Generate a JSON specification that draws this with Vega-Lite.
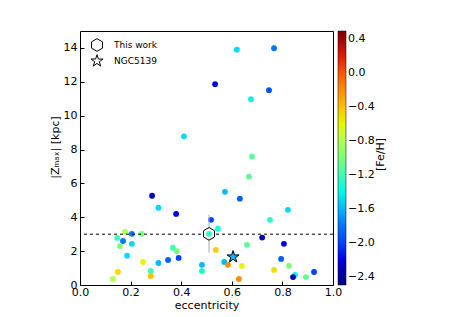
{
  "$schema": "https://vega.github.io/schema/vega-lite/v6.json",
  "autosize": "none",
  "padding": {"left": 80, "top": 31, "right": 116, "bottom": 32},
  "width": 253,
  "height": 254,
  "config": {
    "font": "DejaVu Sans",
    "view": {"stroke": "black", "strokeWidth": 1},
    "axis": {
      "domain": false,
      "grid": false,
      "tickColor": "black",
      "tickSize": 4,
      "offset": -4,
      "labelColor": "black",
      "labelFontSize": 11,
      "labelFont": "DejaVu Sans",
      "labelFlush": false,
      "labelOverlap": false,
      "titleFont": "DejaVu Sans",
      "titleFontSize": 11,
      "titleFontWeight": "normal",
      "titleColor": "black"
    },
    "legend": {
      "labelFont": "DejaVu Sans",
      "titleFont": "DejaVu Sans"
    }
  },
  "datasets": {
    "stars": [
      {"e": 0.411, "z": 8.78, "feh": -1.5},
      {"e": 0.534, "z": 11.86, "feh": -2.2},
      {"e": 0.62, "z": 13.9, "feh": -1.5},
      {"e": 0.767, "z": 13.98, "feh": -1.8},
      {"e": 0.747, "z": 11.5, "feh": -1.95},
      {"e": 0.676, "z": 10.97, "feh": -1.4},
      {"e": 0.68, "z": 7.59, "feh": -1.1},
      {"e": 0.668, "z": 6.4, "feh": -1.1},
      {"e": 0.573, "z": 5.5, "feh": -1.6},
      {"e": 0.632, "z": 5.1, "feh": -1.9},
      {"e": 0.822, "z": 4.44, "feh": -1.5},
      {"e": 0.751, "z": 3.85, "feh": -1.25},
      {"e": 0.518, "z": 3.85, "feh": -2.0},
      {"e": 0.545, "z": 3.32, "feh": -1.3},
      {"e": 0.72, "z": 2.8, "feh": -2.3},
      {"e": 0.806, "z": 2.43, "feh": -2.2},
      {"e": 0.66, "z": 2.37, "feh": -1.1},
      {"e": 0.537, "z": 2.07, "feh": -0.45},
      {"e": 0.57, "z": 1.36, "feh": -1.6},
      {"e": 0.585, "z": 1.19, "feh": -0.2},
      {"e": 0.64, "z": 1.13, "feh": -0.6},
      {"e": 0.795, "z": 1.54, "feh": -1.9},
      {"e": 0.826, "z": 1.13, "feh": -1.0},
      {"e": 0.767, "z": 0.89, "feh": -0.5},
      {"e": 0.925, "z": 0.77, "feh": -2.0},
      {"e": 0.85, "z": 0.59, "feh": -1.4},
      {"e": 0.842, "z": 0.47, "feh": -2.3},
      {"e": 0.893, "z": 0.47, "feh": -1.1},
      {"e": 0.628, "z": 0.36, "feh": -0.2},
      {"e": 0.285, "z": 5.27, "feh": -2.3},
      {"e": 0.31, "z": 4.56, "feh": -1.5},
      {"e": 0.38, "z": 4.2, "feh": -2.2},
      {"e": 0.178, "z": 3.14, "feh": -0.8},
      {"e": 0.205, "z": 3.02, "feh": -1.8},
      {"e": 0.244, "z": 3.02, "feh": -1.0},
      {"e": 0.147, "z": 2.78, "feh": -1.2},
      {"e": 0.17, "z": 2.6, "feh": -1.8},
      {"e": 0.158, "z": 2.3, "feh": -1.0},
      {"e": 0.205, "z": 2.43, "feh": -1.5},
      {"e": 0.367, "z": 2.2, "feh": -1.2},
      {"e": 0.383, "z": 2.0, "feh": -1.0},
      {"e": 0.186, "z": 1.73, "feh": -1.5},
      {"e": 0.249, "z": 1.36, "feh": -0.6},
      {"e": 0.31, "z": 1.3, "feh": -1.6},
      {"e": 0.348, "z": 1.48, "feh": -1.9},
      {"e": 0.39, "z": 1.6, "feh": -2.0},
      {"e": 0.482, "z": 1.19, "feh": -1.6},
      {"e": 0.482, "z": 0.83, "feh": -1.3},
      {"e": 0.15, "z": 0.77, "feh": -0.5},
      {"e": 0.28, "z": 0.83, "feh": -1.2},
      {"e": 0.28, "z": 0.53, "feh": -0.4},
      {"e": 0.13, "z": 0.36, "feh": -0.8}
    ],
    "special": [
      {"e": 0.51, "z": 3.02, "zlo": 1.9, "zhi": 4.15, "feh": -1.25, "label": "This work"},
      {"e": 0.605, "z": 1.66, "zlo": 1.66, "zhi": 1.66, "feh": -1.6, "label": "NGC5139"}
    ]
  },
  "resolve": {"scale": {"y": "independent"}, "axis": {"y": "independent"}},
  "layer": [
    {
      "layer": [
        {
          "data": {"name": "stars"},
          "mark": {"type": "point", "shape": "circle", "filled": true, "opacity": 1, "size": 34},
          "encoding": {
            "x": {
              "field": "e", "type": "quantitative",
              "scale": {"domain": [0, 1], "nice": false, "zero": false},
              "axis": {"title": "eccentricity", "values": [0, 0.2, 0.4, 0.6, 0.8, 1.0], "format": ".1f", "labelPadding": 1, "titlePadding": 2}
            },
            "y": {
              "field": "z", "type": "quantitative",
              "scale": {"domain": [0, 15], "nice": false, "zero": false},
              "axis": {"orient": "left", "title": "|Zₘₐₓ| [kpc]", "values": [0, 2, 4, 6, 8, 10, 12, 14], "tickCount": 8, "format": "d", "labelOverlap": false, "labelSeparation": 0, "labelPadding": 3, "titlePadding": 3, "titleY": 116}
            },
            "color": {
              "field": "feh", "type": "quantitative",
              "scale": {
                "domain": [-2.5, -2.125, -1.75, -1.375, -1.0, -0.625, -0.25, 0.125, 0.5],
                "range": ["#00007f", "#0000ff", "#0080ff", "#15ffe2", "#7bff7b", "#e2ff15", "#ff9700", "#ff2100", "#800000"],
                "nice": false, "zero": false
              },
              "legend": {
                "title": null,
                "orient": "none",
                "legendX": 258,
                "legendY": 0,
                "direction": "vertical",
                "padding": 0,
                "gradientLength": 254,
                "gradientThickness": 8,
                "gradientStrokeColor": "black",
                "gradientStrokeWidth": 0.5,
                "values": [-2.4, -2.0, -1.6, -1.2, -0.8, -0.4, 0.0, 0.4],
                "format": ".1f",
                "labelFontSize": 11,
                "labelColor": "black",
                "labelOverlap": false,
                "labelOffset": 2
              }
            }
          }
        },
        {
          "data": {"name": "special"},
          "transform": [{"filter": "datum.label === 'This work'"}],
          "mark": {"type": "rule", "color": "#aaaaaa", "strokeWidth": 1},
          "encoding": {
            "x": {"field": "e", "type": "quantitative"},
            "y": {"field": "zlo", "type": "quantitative"},
            "y2": {"field": "zhi"}
          }
        },
        {
          "data": {"values": [{"yv": 3.0}]},
          "mark": {"type": "rule", "color": "black", "strokeDash": [3, 3], "strokeWidth": 1},
          "encoding": {"y": {"field": "yv", "type": "quantitative"}}
        },
        {
          "data": {"name": "special"},
          "transform": [{"filter": "datum.label === 'This work'"}],
          "mark": {"type": "point", "filled": true, "opacity": 1, "fill": "white", "stroke": "black", "strokeWidth": 1, "size": 160, "shape": "M0,-1L0.866,-0.5L0.866,0.5L0,1L-0.866,0.5L-0.866,-0.5Z"},
          "encoding": {
            "x": {"field": "e", "type": "quantitative"},
            "y": {"field": "z", "type": "quantitative"}
          }
        },
        {
          "data": {"name": "special"},
          "transform": [{"filter": "datum.label === 'NGC5139'"}],
          "mark": {"type": "point", "filled": true, "opacity": 1, "stroke": "black", "strokeWidth": 1, "size": 160},
          "encoding": {
            "x": {"field": "e", "type": "quantitative"},
            "y": {"field": "z", "type": "quantitative"},
            "color": {"field": "feh", "type": "quantitative", "legend": null},
            "shape": {
              "field": "label", "type": "nominal",
              "scale": {"domain": ["This work", "NGC5139"], "range": ["M0,-1L0.866,-0.5L0.866,0.5L0,1L-0.866,0.5L-0.866,-0.5Z", "M0,-1L0.225,-0.309L0.951,-0.309L0.363,0.118L0.588,0.809L0,0.382L-0.588,0.809L-0.363,0.118L-0.951,-0.309L-0.225,-0.309Z"]},
              "legend": {
                "title": null,
                "orient": "none",
                "legendX": 10,
                "legendY": 7,
                "symbolSize": 160,
                "symbolFillColor": "white",
                "symbolStrokeColor": "black",
                "symbolStrokeWidth": 1,
                "labelFontSize": 9,
                "labelColor": "black",
                "labelOffset": 10,
                "rowPadding": -5,
                "padding": 0
              }
            }
          }
        },
        {
          "data": {"name": "special"},
          "transform": [{"filter": "datum.label === 'This work'"}],
          "mark": {"type": "point", "shape": "circle", "filled": true, "opacity": 1, "size": 34},
          "encoding": {
            "x": {"field": "e", "type": "quantitative"},
            "y": {"field": "z", "type": "quantitative"},
            "color": {"field": "feh", "type": "quantitative", "legend": null}
          }
        }
      ]
    },
    {
      "data": {"values": [{"yv": 3.0}]},
      "mark": {"type": "rule", "opacity": 0},
      "encoding": {
        "y": {
          "field": "yv", "type": "quantitative",
          "scale": {"domain": [0, 15], "nice": false, "zero": false},
          "axis": {
            "orient": "right",
            "title": "[Fe/H]",
            "labels": false,
            "ticks": false,
            "domain": false,
            "offset": 0,
            "titleAngle": 270,
            "titleAlign": "center",
            "titleBaseline": "middle",
            "titleX": 47,
            "titleY": 123,
            "titleFontSize": 11
          }
        }
      }
    }
  ]
}
